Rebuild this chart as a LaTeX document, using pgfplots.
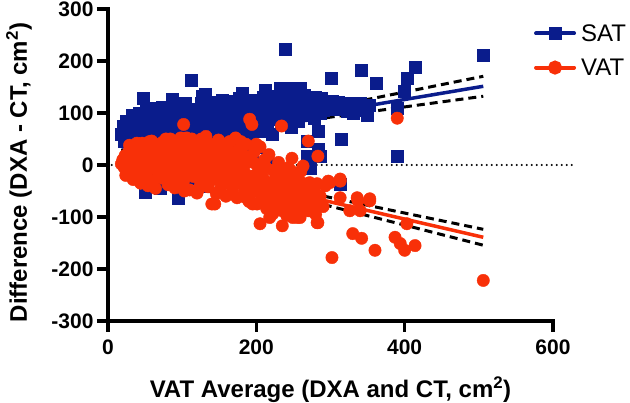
\documentclass[border=0pt]{standalone}
\usepackage{fontspec}
\setmainfont{Liberation Sans}
\usepackage{pgfplots}
\pgfplotsset{compat=1.18}
\definecolor{satblue}{RGB}{10,28,140}
\definecolor{vatred}{RGB}{248,48,8}
\begin{document}
\begin{tikzpicture}
\begin{axis}[
 scale only axis, width=445pt, height=312pt,
 xmin=0, xmax=600, ymin=-300, ymax=300,
 axis x line*=bottom, axis y line*=left,
 axis line style={line width=3.5pt, line cap=rect},
 xtick={0,200,400,600}, ytick={-300,-200,-100,0,100,200,300},
 tick align=outside, major tick length=11pt,
 tick style={black, line width=3.5pt},
 /pgf/number format/assume math mode=true,
 ticklabel style={font=\fontsize{21}{21}\selectfont\bfseries},
 xticklabel style={yshift=-4pt},
 xlabel={VAT Average (DXA and CT, cm\textsuperscript{2})},
 ylabel={Difference (DXA - CT, cm\textsuperscript{2})},
 label style={font=\fontsize{24}{28}\selectfont\bfseries},
 xlabel style={at={(axis description cs:0.5,-0.244)}, anchor=base},
 ylabel style={at={(axis description cs:-0.2,0.476)}, anchor=center},
 clip=false,
 legend style={at={(axis description cs:0.957,0.958)}, anchor=north west, draw=none, fill=none,
   font=\fontsize{24}{28}\selectfont, row sep=12pt, inner sep=0pt},
 legend cell align=left,
 legend image code/.code={\draw[mark repeat=2,mark phase=2,#1] plot coordinates {(0pt,0pt) (19pt,0pt) (38pt,0pt)}; \path (41pt,0pt);},
]
% zero line
\addplot[forget plot, black, line width=2.2pt, line cap=round, dash pattern=on 0pt off 5pt] coordinates {(5,0) (630,0)};
% SAT fit and CI
\addplot[forget plot, satblue, line width=3.5pt] coordinates {(18,34.3) (506,151.4)};
\addplot[forget plot, black, line width=3pt, dash pattern=on 8pt off 5pt, smooth] coordinates {(18,41.3) (60,50.2) (120,63.8) (180,79.0) (250,98.0) (320,117.6) (400,140.3) (506,170.6)};
\addplot[forget plot, black, line width=3pt, dash pattern=on 8pt off 5pt, smooth] coordinates {(18,27.3) (60,38.6) (120,53.8) (180,67.4) (250,82.0) (320,96.0) (400,111.7) (506,132.2)};
% VAT fit and CI
\addplot[forget plot, vatred, line width=3.5pt] coordinates {(18,22.1) (506,-139.0)};
\addplot[forget plot, black, line width=3pt, dash pattern=on 8pt off 5pt, smooth] coordinates {(18,28.4) (60,13.7) (120,-6.6) (180,-25.9) (250,-47.5) (320,-68.6) (400,-92.4) (506,-123.7)};
\addplot[forget plot, black, line width=3pt, dash pattern=on 8pt off 5pt, smooth] coordinates {(18,15.8) (60,2.7) (120,-16.6) (180,-36.9) (250,-61.5) (320,-86.6) (400,-115.6) (506,-154.3)};
% SAT points
\addplot[forget plot, satblue, only marks, mark=square*, mark size=6pt, mark options={solid, draw=none, fill=satblue}] coordinates {
(18,60) (20,75) (22,45) (25,85) (27,55) (30,70) (32,95) (34,40) (36,65) (38,80) (40,50) (42,100) (44,72) (46,35) (47,128) (48,88) (50,60) (52,105) (54,45) (55,78) (57,92) (58,30) (60,68) (62,110) (63,52) (65,85) (67,40) (68,98) (70,62) (72,75) (73,112) (75,48) (77,88) (78,20) (80,70) (82,102) (83,58) (85,90) (86,126) (87,38) (88,115) (90,66) (92,80) (93,50) (95,105) (97,72) (98,28) (100,95) (102,60) (104,118) (105,84) (107,45) (108,100) (110,70) (112,163) (113,90) (115,55) (117,108) (118,78) (120,35) (122,96) (124,65) (125,118) (127,132) (128,85) (130,50) (131,136) (132,102) (134,74) (135,112) (137,60) (139,92) (140,40) (142,120) (144,80) (145,100) (147,66) (149,110) (150,88) (152,52) (154,125) (155,95) (157,72) (159,108) (160,60) (162,118) (164,85) (165,100) (167,45) (169,122) (170,90) (172,70) (174,112) (175,80) (177,128) (179,62) (181,138) (182,95) (184,105) (186,75) (188,118) (190,88) (192,55) (194,110) (195,17) (196,96) (198,125) (200,80) (202,108) (204,65) (205,120) (207,92) (209,130) (211,100) (212,143) (214,78) (216,115) (218,88) (220,125) (222,60) (224,105) (225,2) (226,132) (228,95) (230,112) (232,147) (234,84) (236,120) (238,100) (239,222) (241,130) (243,90) (245,110) (247,72) (249,125) (250,147) (252,100) (254,115) (256,85) (259,147) (259,103) (261,120) (263,95) (265,135) (268,117) (268,46) (268,17) (270,105) (272,-6) (274,125) (276,109) (278,90) (280,130) (283,65) (283,31) (285,115) (286,99) (286,17) (288,128) (290,105) (295,118) (300,110) (301,166) (302,122) (305,108) (310,120) (313,-36) (315,50) (318,112) (322,104) (326,118) (330,100) (335,112) (340,118) (342,183) (345,105) (350,95) (352,115) (361,157) (390,109) (390,17) (400,141) (403,166) (414,189) (506,212)
(39,-17) (50,-53) (63,-30) (94,-63) (80,-10) (110,-25) (150,-15) (175,-5) (120,5) (60,10) (30,15) (140,20) (190,23) (85,25) (100,15) (45,20) (170,30) (200,35) (130,-40) (70,-45)
};
% VAT points
\addplot[forget plot, vatred, only marks, mark=*, mark size=6.2pt, mark options={solid, draw=none, fill=vatred}] coordinates {
(18,2) (20,10) (22,-5) (23,18) (25,5) (27,-12) (28,25) (30,8) (32,-3) (33,30) (35,12) (36,-18) (38,20) (40,0) (41,35) (43,-8) (45,15) (46,42) (48,-22) (50,5) (51,28) (53,-12) (55,18) (56,45) (58,-2) (60,10) (61,-30) (63,32) (65,0) (66,20) (68,-15) (70,40) (71,8) (73,-25) (75,25) (76,-5) (78,50) (80,12) (81,-38) (83,30) (85,-10) (86,18) (88,45) (90,-44) (90,2) (92,35) (94,-20) (95,22) (97,-5) (98,52) (100,10) (102,78) (102,-30) (104,28) (105,-12) (107,40) (108,0) (110,-48) (111,20) (113,50) (115,-22) (116,8) (118,32) (120,-54) (120,-8) (122,15) (124,45) (125,-35) (127,2) (128,25) (130,-18) (132,55) (133,10) (135,-42) (136,30) (138,-5) (140,-75) (140,18) (142,-28) (144,-75) (144,40) (145,5) (147,-15) (149,48) (150,-50) (150,22) (152,-8) (154,35) (155,-30) (157,10) (159,-60) (160,28) (162,-18) (164,45) (165,0) (167,-40) (169,15) (170,-25) (172,52) (174,-63) (174,5) (176,30) (178,-35) (180,-10) (182,20) (184,-50) (186,40) (188,-20) (190,-70) (191,88) (191,8) (194,78) (195,-75) (195,-30) (197,25) (199,-45) (201,-75) (201,0) (203,-15) (205,-113) (205,35) (207,-58) (209,-25) (211,10) (214,-84) (215,-40) (217,20) (218,-101) (219,-55) (222,-94) (222,-10) (224,-30) (226,-68) (228,-17) (230,5) (232,-45) (234,75) (235,-88) (235,-117) (236,-34) (238,-60) (240,-20) (241,-97) (243,-5) (245,-69) (245,-56) (247,-38) (248,13) (249,-101) (250,-80) (252,-25) (255,-40) (255,-101) (257,-60) (259,-101) (260,-12) (263,-44) (263,-2) (264,-75) (268,-36) (270,46) (270,-88) (272,-34) (272,-63) (272,-88) (276,-50) (282,-36) (282,-75) (282,-111) (283,17) (283,-111) (297,-31) (299,-34) (302,-178) (313,-27) (313,-31) (313,-63) (326,-88) (330,-132) (336,-63) (337,-69) (340,-88) (342,-141) (353,-69) (353,-65) (360,-164) (387,-139) (390,90) (394,-151) (400,-164) (403,-113) (414,-155) (506,-222)
(24,-20) (29,38) (34,-28) (39,42) (44,-35) (49,36) (54,-40) (59,46) (64,-45) (69,-10) (74,44) (79,-20) (84,50) (89,-30) (93,12) (96,42) (99,-35) (103,-50) (106,52) (109,-15) (114,35) (119,0) (123,-45) (126,50) (131,-25) (134,42) (139,-10) (143,15) (146,-55) (148,28) (153,-40) (156,5) (158,40) (161,-5) (163,-30) (166,25) (168,-50) (171,-15) (173,12) (177,-25) (179,45) (183,-5) (185,-62) (187,15) (189,-35) (193,-55) (196,5) (198,-20) (200,40) (206,-35) (210,-65) (213,-5) (216,-48) (220,-75) (225,-50) (229,-80) (233,-8) (237,-75) (242,-45) (244,-85) (246,-10) (251,-55) (254,-70) (258,-30) (261,-90) (266,-55) (274,-75) (278,-50) (280,-95) (286,-60) (290,-80) (293,-40)
};
% legend
\addlegendimage{satblue, line width=4pt, line cap=round, mark=square*, mark size=4.5pt, mark options={solid, draw=none, fill=satblue}}
\addlegendentry{SAT}
\addlegendimage{vatred, line width=4pt, line cap=round, mark=*, mark size=5pt, mark options={solid, draw=none, fill=vatred}}
\addlegendentry{VAT}
\coordinate (O) at (rel axis cs:0,0);
\end{axis}
\pgfresetboundingbox
\path (O) ++(-108pt,-82pt) rectangle ++(630pt,403pt);
\end{tikzpicture}
\end{document}
